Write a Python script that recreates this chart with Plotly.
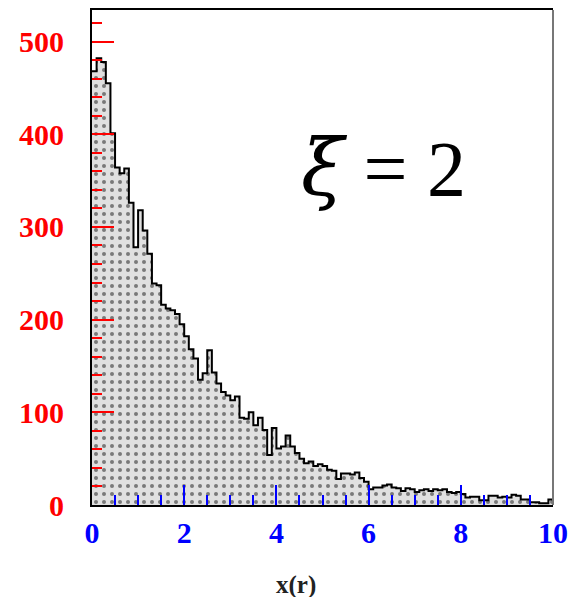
import numpy as np
import plotly.graph_objects as go

# Histogram of x(r), 100 bins of width 0.1 from 0 to 10
bin_start = 0.0
bin_width = 0.1
counts = [
    468, 482, 478, 455, 401, 364, 358, 363, 326, 278,
    318, 296, 271, 239, 237, 216, 212, 210, 206, 195,
    182, 168, 158, 135, 142, 167, 143, 131, 122, 118,
    113, 117, 94, 93, 100, 86, 94, 81, 54, 83,
    61, 63, 75, 63, 56, 50, 45, 47, 42, 44,
    42, 38, 37, 28, 34, 34, 33, 35, 29, 25,
    17, 19, 19, 21, 22, 19, 18, 15, 18, 17,
    14, 16, 17, 15, 17, 16, 17, 14, 13, 14,
    12, 8, 9, 9, 5, 5, 10, 10, 8, 9,
    8, 11, 10, 6, 6, 3, 3, 2, 2, 6,
]
x_ticks = [0, 2, 4, 6, 8, 10]
x_ticklabels = ["0", "2", "4", "6", "8", "10"]
y_ticks = [0, 100, 200, 300, 400, 500]
y_ticklabels = ["0", "100", "200", "300", "400", "500"]
annotation_text = '<span style="font-family:\'DejaVu Serif\'"><i>ξ</i></span> = 2'
x_title = "x(r)"

n = len(counts)
edges = bin_start + bin_width * np.arange(n + 1)
centers = edges[:-1] + bin_width / 2

fig = go.Figure()
fig.add_trace(go.Bar(
    x=centers, y=counts, width=bin_width,
    marker=dict(
        color="#dedede",
        line=dict(width=0),
        pattern=dict(shape=".", fgcolor="#111", bgcolor="#e0e0e0", size=8, solidity=0.2),
    ),
    showlegend=False, hoverinfo="skip",
))
fig.add_trace(go.Scatter(
    x=list(edges), y=list(counts) + [counts[-1]],
    mode="lines", line=dict(color="black", width=2, shape="hv"),
    showlegend=False, hoverinfo="skip",
))

fig.update_layout(
    width=571, height=597,
    margin=dict(l=92, r=18, t=10, b=92),
    paper_bgcolor="white", plot_bgcolor="white",
    bargap=0,
    xaxis=dict(
        range=[0, 10], tickvals=x_ticks, ticktext=x_ticklabels,
        ticks="inside", ticklen=20, tickwidth=2, tickcolor="blue",
        minor=dict(dtick=0.5, ticks="inside", ticklen=10, tickwidth=2, tickcolor="blue"),
        tickfont=dict(family="Liberation Serif", size=30, color="blue", weight="bold"),
        showline=True, linecolor="black", linewidth=2, mirror=True,
        showgrid=False, zeroline=False, ticklabelstandoff=0, automargin=False,
    ),
    yaxis=dict(
        range=[0, 534], tickvals=y_ticks, ticktext=y_ticklabels,
        ticks="inside", ticklen=22, tickwidth=2, tickcolor="red",
        minor=dict(dtick=20, ticks="inside", ticklen=10, tickwidth=2, tickcolor="red"),
        tickfont=dict(family="Liberation Serif", size=30, color="red", weight="bold"),
        showline=True, linecolor="black", linewidth=2,
        showgrid=False, zeroline=False, ticklabelstandoff=20, automargin=False,
    ),
    annotations=[
        dict(text=annotation_text, x=(383 - 92) / 461, y=(505 - 168) / 495,
             xref="paper", yref="paper", showarrow=False,
             xanchor="center", yanchor="middle",
             font=dict(family="Liberation Serif", size=78, color="black")),
        dict(text=x_title, x=(296 - 92) / 461, y=(505 - 585) / 495,
             xref="paper", yref="paper", showarrow=False,
             xanchor="center", yanchor="middle",
             font=dict(family="Liberation Serif", size=25, color="#222", weight="bold")),
    ],
    shapes=[
        dict(type="line", xref="paper", yref="paper", x0=1, x1=1, y0=0, y1=1,
             line=dict(color="#777", width=2)),
    ],
)

fig.write_html("out.html")
